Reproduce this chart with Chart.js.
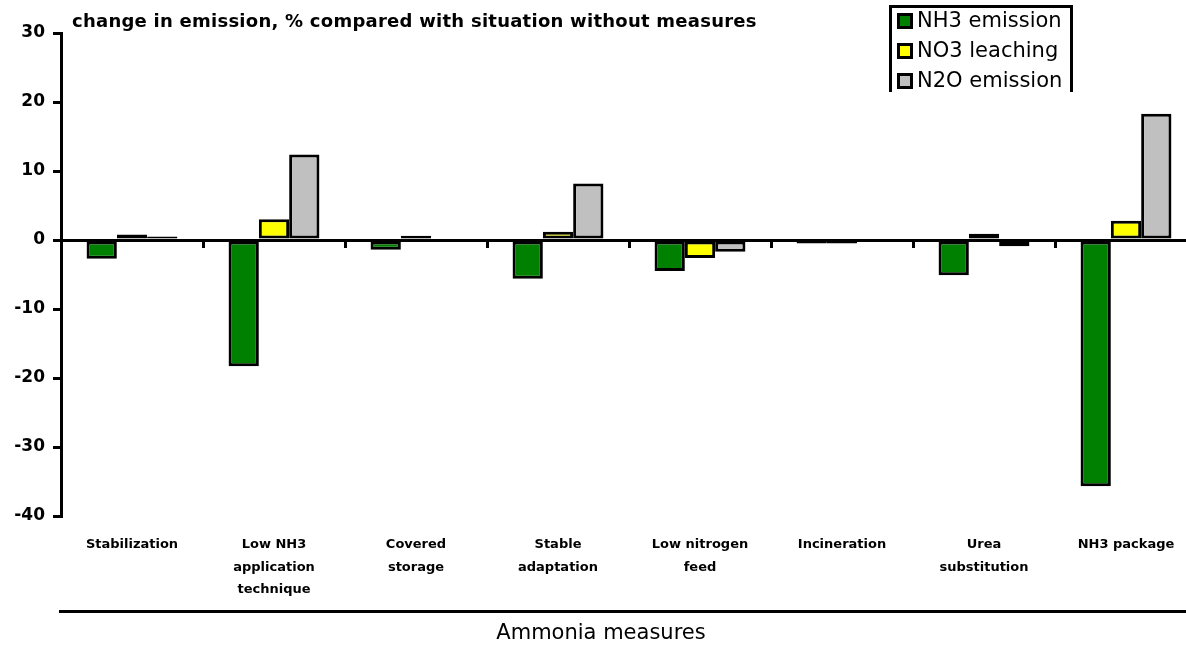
<!DOCTYPE html>
<html>
<head>
<meta charset="utf-8">
<script src="https://cdn.jsdelivr.net/npm/chart.js@4.4.1/dist/chart.umd.min.js"></script>
<style>
  html, body { margin: 0; padding: 0; background: #fff; overflow: hidden; }
  #wrap { width: 1200px; height: 648px; }
</style>
</head>
<body>
<div id="wrap"><canvas id="emissionChart" width="1200" height="648"></canvas></div>
<script>
const measures = [
  ["Stabilization"],
  ["Low NH3", "application", "technique"],
  ["Covered", "storage"],
  ["Stable", "adaptation"],
  ["Low nitrogen", "feed"],
  ["Incineration"],
  ["Urea", "substitution"],
  ["NH3 package"]
];
const nh3Emission = [-2.7, -18.3, -1.4, -5.6, -4.5, -0.5, -5.1, -35.7];
const no3Leaching = [0.8, 3.0, 0.6, 1.2, -2.6, -0.5, 0.9, 2.8];
const n2oEmission = [0.5, 12.4, 0, 8.2, -1.7, 0, -0.9, 18.3];
const yTicks = [30, 20, 10, 0, -10, -20, -30, -40];

const headingText = "change in emission, % compared with situation without measures";
const axisTitle = "Ammonia measures";
const fontFamily = "'DejaVu Sans', Verdana, sans-serif";

// heading, boxed legend, the rule and the title under the category labels
const extras = {
  id: "extras",
  afterDraw(chart) {
    const ctx = chart.ctx;
    ctx.save();
    ctx.fillStyle = "#000";
    ctx.textBaseline = "middle";
    ctx.font = "bold 18px " + fontFamily;
    ctx.letterSpacing = "0.25px";
    ctx.fillText(headingText, 72, 22);
    ctx.letterSpacing = "0px";

    ctx.fillRect(59, 610, 1141, 3);
    ctx.font = "21px " + fontFamily;
    ctx.textAlign = "center";
    ctx.fillText(axisTitle, 601, 634);
    ctx.textAlign = "left";

    ctx.beginPath();
    ctx.rect(880, 0, 200, 92);
    ctx.clip();
    ctx.lineWidth = 3;
    ctx.strokeStyle = "#000";
    ctx.beginPath();
    ctx.moveTo(890.5, 100);
    ctx.lineTo(890.5, 6.5);
    ctx.lineTo(1071.5, 6.5);
    ctx.lineTo(1071.5, 100);
    ctx.stroke();
    ctx.font = "21px " + fontFamily;
    chart.data.datasets.forEach((ds, i) => {
      const y = 21 + i * 30;
      ctx.fillStyle = "#000";
      ctx.fillRect(897, y - 8, 16, 16);
      ctx.fillStyle = ds.backgroundColor;
      ctx.fillRect(900, y - 5, 10, 10);
      ctx.fillStyle = "#000";
      ctx.fillText(ds.label, 917, y + 1);
    });
    ctx.restore();
  }
};

const ctx = document.getElementById("emissionChart").getContext("2d");

new Chart(ctx, {
  type: "bar",
  data: {
    labels: measures,
    datasets: [
      { label: "NH3 emission", data: nh3Emission, backgroundColor: "#008000" },
      { label: "NO3 leaching", data: no3Leaching, backgroundColor: "#FFFF00" },
      { label: "N2O emission", data: n2oEmission, backgroundColor: "#C0C0C0" }
    ].map((ds) => ({
      ...ds,
      xAxisID: "x",
      borderColor: "#000",
      borderWidth: 3,
      borderSkipped: false,
      categoryPercentage: 0.64,
      barPercentage: 1
    }))
  },
  options: {
    responsive: false,
    animation: false,
    devicePixelRatio: 1,
    layout: { padding: { top: 33, right: 3, left: 0, bottom: 0 } },
    plugins: {
      legend: { display: false },
      title: { display: false },
      tooltip: { enabled: false }
    },
    scales: {
      y: {
        min: -40,
        max: 30,
        afterBuildTicks: (scale) => {
          scale.ticks = yTicks.map((v) => ({ value: v }));
        },
        afterFit: (scale) => {
          scale.width = 61;
        },
        ticks: {
          color: "#000",
          padding: 8,
          font: { family: fontFamily, size: 17, weight: "bold" }
        },
        grid: {
          drawOnChartArea: false,
          drawTicks: true,
          tickLength: 8,
          color: "#000",
          lineWidth: 3
        },
        border: { display: true, color: "#000", width: 3 }
      },
      x: {
        position: { y: 0 },
        offset: true,
        ticks: { display: false },
        grid: {
          offset: true,
          drawOnChartArea: false,
          drawTicks: true,
          tickLength: 6,
          color: "#000",
          lineWidth: 3
        },
        border: { display: true, color: "#000", width: 3 }
      },
      x2: {
        type: "category",
        position: "bottom",
        offset: true,
        afterFit: (scale) => {
          scale.height = 132;
        },
        ticks: {
          color: "#000",
          autoSkip: false,
          maxRotation: 0,
          minRotation: 0,
          padding: 9,
          font: { family: fontFamily, size: 13, weight: "bold", lineHeight: 1.75 }
        },
        grid: { display: false },
        border: { display: false }
      }
    }
  },
  plugins: [extras]
});
</script>
</body>
</html>
